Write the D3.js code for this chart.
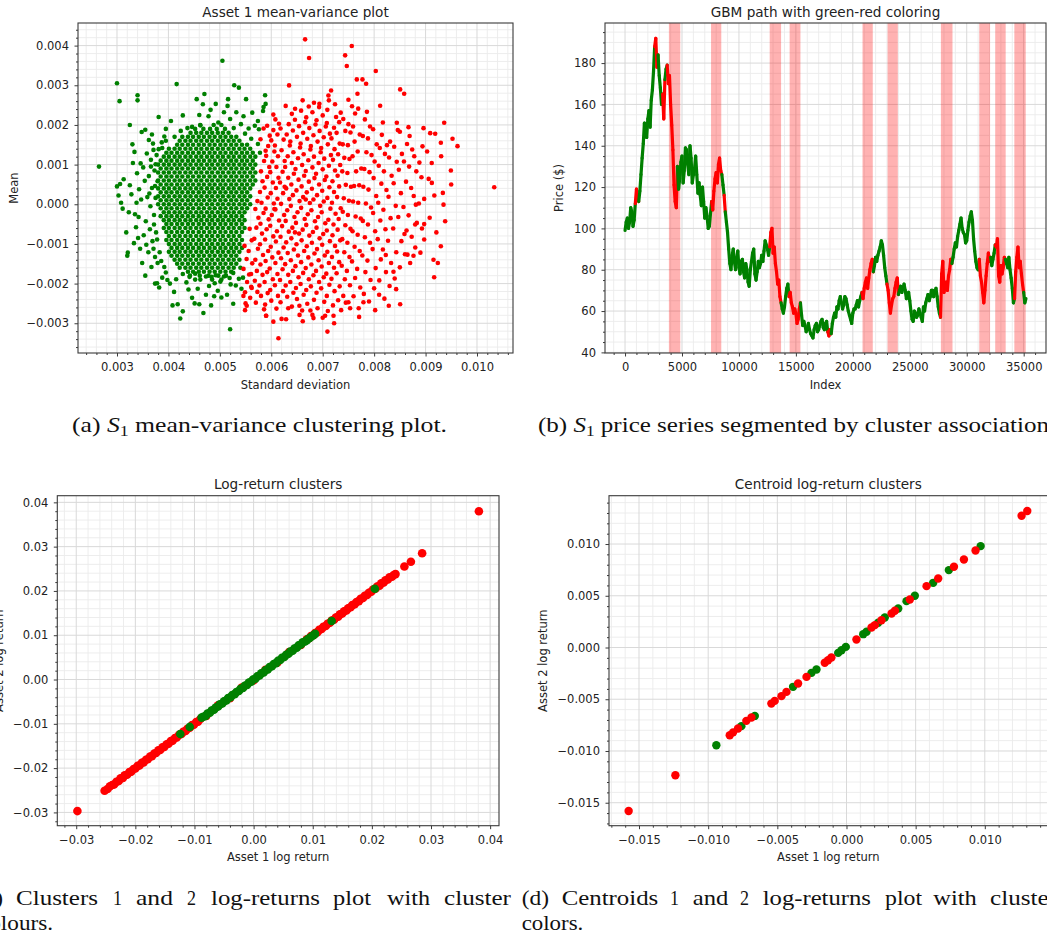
<!DOCTYPE html>
<html><head><meta charset="utf-8">
<script src="https://cdn.jsdelivr.net/npm/d3@7"></script>
<style>
body{margin:0;background:#fff;}
svg text{font-family:"DejaVu Sans",sans-serif;}
</style></head><body>
<svg id="fig" width="1047" height="940"></svg>
<script>
// ---------------- (a) mean-variance data: [std, mean] ----------------
const aGreenRows = [
[.0020,[.00462,.00488,.00503]],
[.0019,[.00452,.00468,.00481,.00494,.0051]],
[.0018,[.00443,.00454,.00464,.00475,.00485,.00496,.00506,.00517]],
[.0017,[.00427,.00438,.00448,.00459,.00469,.0048,.0049,.00501,.00511,.00522,.00532]],
[.0016,[.00422,.00433,.00443,.00454,.00464,.00475,.00485,.00496,.00506,.00517,.00527,.00538]],
[.0015,[.00417,.00427,.00438,.00448,.00459,.00469,.0048,.0049,.00501,.00511,.00522,.00532,.00543,.00553]],
[.0014,[.00401,.00412,.00422,.00433,.00443,.00454,.00464,.00475,.00485,.00496,.00506,.00517,.00527,.00538,.00548,.00559]],
[.0013,[.00396,.00406,.00417,.00427,.00438,.00448,.00459,.00469,.0048,.0049,.00501,.00511,.00522,.00532,.00543,.00553,.00564]],
[.0012,[.00391,.00401,.00412,.00422,.00433,.00443,.00454,.00464,.00475,.00485,.00496,.00506,.00517,.00527,.00538,.00548,.00559,.00569]],
[.0011,[.00385,.00396,.00406,.00417,.00427,.00438,.00448,.00459,.00469,.0048,.0049,.00501,.00511,.00522,.00532,.00543,.00553,.00564]],
[.0010,[.0038,.00391,.00401,.00412,.00422,.00433,.00443,.00454,.00464,.00475,.00485,.00496,.00506,.00517,.00527,.00538,.00548,.00559,.00569]],
[.0009,[.00385,.00396,.00406,.00417,.00427,.00438,.00448,.00459,.00469,.0048,.0049,.00501,.00511,.00522,.00532,.00543,.00553,.00564]],
[.0008,[.0038,.00391,.00401,.00412,.00422,.00433,.00443,.00454,.00464,.00475,.00485,.00496,.00506,.00517,.00527,.00538,.00548,.00559,.00569]],
[.0007,[.00385,.00396,.00406,.00417,.00427,.00438,.00448,.00459,.00469,.0048,.0049,.00501,.00511,.00522,.00532,.00543,.00553,.00564]],
[.0006,[.0038,.00391,.00401,.00412,.00422,.00433,.00443,.00454,.00464,.00475,.00485,.00496,.00506,.00517,.00527,.00538,.00548,.00559,.00569]],
[.0005,[.00385,.00396,.00406,.00417,.00427,.00438,.00448,.00459,.00469,.0048,.0049,.00501,.00511,.00522,.00532,.00543,.00553,.00564]],
[.0004,[.0038,.00391,.00401,.00412,.00422,.00433,.00443,.00454,.00464,.00475,.00485,.00496,.00506,.00517,.00527,.00538,.00548,.00559]],
[.0003,[.00385,.00396,.00406,.00417,.00427,.00438,.00448,.00459,.00469,.0048,.0049,.00501,.00511,.00522,.00532,.00543,.00553]],
[.0002,[.0038,.00391,.00401,.00412,.00422,.00433,.00443,.00454,.00464,.00475,.00485,.00496,.00506,.00517,.00527,.00538,.00548,.00559]],
[.0001,[.00385,.00396,.00406,.00417,.00427,.00438,.00448,.00459,.00469,.0048,.0049,.00501,.00511,.00522,.00532,.00543,.00553]],
[.0000,[.0038,.00391,.00401,.00412,.00422,.00433,.00443,.00454,.00464,.00475,.00485,.00496,.00506,.00517,.00527,.00538,.00548,.00559]],
[-.0001,[.00385,.00396,.00406,.00417,.00427,.00438,.00448,.00459,.00469,.0048,.0049,.00501,.00511,.00522,.00532,.00543,.00553]],
[-.0002,[.00391,.00401,.00412,.00422,.00433,.00443,.00454,.00464,.00475,.00485,.00496,.00506,.00517,.00527,.00538,.00548]],
[-.0003,[.00385,.00396,.00406,.00417,.00427,.00438,.00448,.00459,.00469,.0048,.0049,.00501,.00511,.00522,.00532,.00543]],
[-.0004,[.00391,.00401,.00412,.00422,.00433,.00443,.00454,.00464,.00475,.00485,.00496,.00506,.00517,.00527,.00538,.00548]],
[-.0005,[.00396,.00406,.00417,.00427,.00438,.00448,.00459,.00469,.0048,.0049,.00501,.00511,.00522,.00532,.00543]],
[-.0006,[.00391,.00401,.00412,.00422,.00433,.00443,.00454,.00464,.00475,.00485,.00496,.00506,.00517,.00527,.00538,.00548]],
[-.0007,[.00396,.00406,.00417,.00427,.00438,.00448,.00459,.00469,.0048,.0049,.00501,.00511,.00522,.00532,.00543]],
[-.0008,[.00401,.00412,.00422,.00433,.00443,.00454,.00464,.00475,.00485,.00496,.00506,.00517,.00527,.00538]],
[-.0009,[.00396,.00406,.00417,.00427,.00438,.00448,.00459,.00469,.0048,.0049,.00501,.00511,.00522,.00532,.00543]],
[-.0010,[.00401,.00412,.00422,.00433,.00443,.00454,.00464,.00475,.00485,.00496,.00506,.00517,.00527,.00538]],
[-.0011,[.00406,.00417,.00427,.00438,.00448,.00459,.00469,.0048,.0049,.00501,.00511,.00522,.00532,.00543]],
[-.0012,[.00401,.00412,.00422,.00433,.00443,.00454,.00464,.00475,.00485,.00496,.00506,.00517,.00527,.00538]],
[-.0013,[.00406,.00417,.00427,.00438,.00448,.00459,.00469,.0048,.0049,.00501,.00511,.00522,.00532]],
[-.0014,[.00412,.00422,.00433,.00443,.00454,.00464,.00475,.00485,.00496,.00506,.00517,.00527,.00538]],
[-.0015,[.00417,.00427,.00438,.00448,.00459,.00469,.0048,.0049,.00501,.00511,.00522,.00532]],
[-.0016,[.00422,.00433,.00443,.00454,.00464,.00475,.00485,.00496,.00506,.00517,.00527]],
[-.0017,[.00438,.00448,.00459,.00469,.0048,.0049,.00501,.00511,.00522]],
[-.0018,[.00442,.00461,.00478,.00497,.00512]],
[-.0019,[.00452,.00485,.00503]]
];
const aGreenHalo = [
[.00265,.00095],[.003,.00045],[.00303,.00022],[.00308,.00004],[.00311,-.00011],[.00313,.00063],[.00306,.00051],[.00318,-.00071],[.0032,-.0013],[.00321,-.00122],
[.00325,.00048],[.00323,-.0002],[.00328,.00025],[.0033,.00151],[.00331,.00104],[.00334,.00132],[.00333,-.00098],[.00337,-.00058],[.00339,.00078],[.00342,-.00032],
[.00343,.00038],[.00345,-.00112],[.00347,.00012],[.00349,-.00148],[.00351,.00093],[.00352,-.00078],[.00354,.00059],[.00355,-.0018],[.00356,-.00043],[.00358,.00128],
[.00359,.00018],[.00361,-.00121],[.00362,.00071],[.00364,-.00063],[.00365,-.00005],[.00366,.00112],[.00367,-.00158],[.00368,.00041],[.00369,-.00093],[.0037,.00153],
[.00372,-.00027],[.00373,.00085],[.00374,-.00133],[.00375,.00016],[.00376,-.00071],[.00377,.00124],[.00378,-.00199],[.00379,.00058],[.00348,.00182],[.00355,.00188],
[.00362,.00162],[.00368,.00176],[.00346,.00103],[.00338,.00004],[.00335,-.00025],[.00341,-.00085],[.00357,-.00102],[.00363,.00027],[.00371,-.00112],[.00366,.00095],
[.00374,.00046],[.00372,-.00051],[.00375,.00101],[.00371,.00137],[.00378,-.00089],[.00383,-.00121],[.00381,.00139],[.00387,.00156],[.00392,.00171],[.00379,-.00148],
[.003,.00305],[.00305,.0026],[.0034,.00275],[.0034,.00262],[.00325,.002],[.00416,.00303],[.00505,.00362],[.00528,.003],[.00537,.00294],[.0047,.00278],
[.00455,.00265],[.00516,.00265],[.00551,.00265],[.00588,.00275],[.00585,.00245],[.00515,.00248],[.00492,.00253],[.00428,.00224],[.00381,.0022],[.00446,.00195],
[.00405,.0021],[.00395,.0019],[.0046,.00225],[.00478,.00222],[.00482,.00238],[.00497,.00206],[.0052,.00215],[.00532,.00232],[.00541,.00202],[.00556,.00191],
[.00568,.00198],[.00574,.0021],[.00546,.00222],[.00584,.00235],[.00589,.00253],[.00576,.00189],[.00462,.00199],[.00437,.00192],[.00424,.00185],[.00412,.0017],
[.00395,.0016],[.00388,.00142],[.00467,.00252],[.00508,.00232],[.00563,.00231],[.00527,.00192],[.00549,.00178],[.00561,.00165],[.00574,.00152],[.00578,.0013],
[.00374,-.002],[.00382,-.0021],[.00388,-.00185],[.00395,-.00172],[.00403,-.002],[.00411,-.00221],[.00418,-.00252],[.00423,-.00288],[.00428,-.0027],[.00435,-.00197],
[.00441,-.00183],[.00446,-.00236],[.00451,-.0025],[.00457,-.00213],[.00462,-.0019],[.00468,-.00274],[.00473,-.00228],[.00479,-.00206],[.00484,-.00183],[.00489,-.00232],
[.00496,-.00218],[.00501,-.00195],[.00508,-.00182],[.00514,-.00228],[.0052,-.00315],[.00526,-.00251],[.00531,-.00205],[.00537,-.00188],[.00542,-.00213],[.00415,-.00189],
[.00428,-.00176],[.00452,-.00175],[.00473,-.00182],[.00492,-.00179],[.00519,-.00186],[.00526,-.00173],[.00408,-.00255],[.0046,-.00252],[.0049,-.00199],[.00398,-.00191],
[.00439,-.00215],[.00503,-.00235],[.00521,-.00202],[.00483,-.00255],[.00392,-.00158],[.00386,-.00143],[.00545,-.00185],[.0054,-.0016]
];
const aRed = [
[.00558,-.00062],[.00562,-.00091],[.00556,-.00118],[.00563,-.00149],[.00557,-.00177],[.00561,-.00208],[.00559,-.00236],
[.00548,-.00105],[.00552,-.00138],[.00546,-.00163],[.00553,-.00196],[.00549,-.00222],[.0055,-.0025],
[.0057,-.00248],[.00573,-.00221],[.00568,-.00193],[.00572,-.00168],[.00569,-.0014],[.00574,-.00112],[.00567,-.00087],[.00571,-.00059],[.00575,-.00034],[.00569,-.00012],[.00573,.00008],
[.0058,-.00231],[.00577,-.00205],[.00583,-.00178],[.00579,-.00152],[.00584,-.00128],[.00578,-.00101],[.00582,-.00074],[.00579,-.00049],[.00585,-.00022],[.00581,.00004],[.00578,.00031],[.00583,.00058],[.0058,.00083],[.00586,.00109],[.00589,.00135],
[.0059,-.00281],[.00588,-.00253],[.00593,-.00224],[.00587,-.00196],[.00592,-.00171],[.00589,-.00143],[.00594,-.00118],[.00588,-.00089],[.00591,-.00063],[.00595,-.00038],[.00589,-.00011],[.00593,.00017],[.00587,.00042],[.00592,.00069],[.00596,.00094],[.0059,.00122],[.00594,.00147],[.00597,.00173],[.00592,.00198],
[.006,-.00243],[.00598,-.00216],[.00603,-.00189],[.00597,-.00162],[.00602,-.00134],[.00599,-.00107],[.00604,-.00081],[.00598,-.00054],[.00601,-.00027],[.00605,.00002],[.00599,.00028],[.00603,.00055],[.00598,.00081],[.00602,.00108],[.00606,.00133],[.006,.00161],[.00604,.00187],[.00608,.00214],
[.0061,-.00263],[.00613,-.00231],[.00607,-.00204],[.00612,-.00176],[.00608,-.00148],[.00614,-.00122],[.00609,-.00094],[.00611,-.00068],[.00615,-.00041],[.00608,-.00013],[.00612,.00014],[.00609,.00041],[.00614,.00067],[.0061,.00094],[.00613,.00121],[.00607,.00148],[.00612,.00176],[.00615,.00203],
[.0062,-.00289],[.00618,-.00247],[.00623,-.00219],[.00617,-.00191],[.00622,-.00164],[.00619,-.00136],[.00624,-.00109],[.00618,-.00082],[.00621,-.00055],[.00625,-.00027],[.00619,.00001],[.00623,.00028],[.00617,.00055],[.00622,.00082],[.00626,.00109],[.0062,.00136],[.00624,.00163],[.00618,.00191],
[.00631,-.00233],[.00628,-.00205],[.00633,-.00178],[.00627,-.00151],[.00632,-.00123],[.00629,-.00096],[.00634,-.00069],[.00628,-.00042],[.00631,-.00015],[.00635,.00013],[.00629,.0004],[.00633,.00067],[.00627,.00094],[.00632,.00121],[.00636,.00148],[.0063,.00176],[.00634,.00202],
[.0064,-.00258],[.00643,-.00223],[.00637,-.00196],[.00642,-.00168],[.00638,-.00141],[.00644,-.00114],[.00639,-.00086],[.00641,-.00059],[.00645,-.00032],[.00638,-.00004],[.00642,.00023],[.00639,.0005],[.00644,.00077],[.0064,.00104],[.00643,.00131],[.00637,.00158],[.00642,.00186],[.00646,.00213],[.0064,.00228],
[.0065,-.00239],[.00648,-.00211],[.00653,-.00184],[.00647,-.00156],[.00652,-.00129],[.00649,-.00101],[.00654,-.00074],[.00648,-.00047],[.00651,-.0002],[.00655,.00008],[.00649,.00035],[.00653,.00062],[.00647,.00089],[.00652,.00116],[.00656,.00143],[.0065,.0017],[.00654,.00197],
[.0066,-.00268],[.00663,-.00228],[.00657,-.00201],[.00662,-.00173],[.00658,-.00146],[.00664,-.00118],[.00659,-.00091],[.00661,-.00064],[.00665,-.00037],[.00658,-.00009],[.00662,.00018],[.00659,.00045],[.00664,.00072],[.0066,.00099],[.00663,.00126],[.00657,.00153],[.00662,.0018],[.00666,.00207],
[.0067,-.00251],[.00668,-.00216],[.00673,-.00189],[.00667,-.00161],[.00672,-.00134],[.00669,-.00106],[.00674,-.00079],[.00668,-.00052],[.00671,-.00025],[.00675,.00003],[.00669,.0003],[.00673,.00057],[.00667,.00084],[.00672,.00111],[.00676,.00138],[.0067,.00165],[.00674,.00192],[.00668,.00219],
[.0068,-.00279],[.00683,-.00241],[.00677,-.00207],[.00682,-.00179],[.00678,-.00152],[.00684,-.00124],[.00679,-.00097],[.00681,-.0007],[.00685,-.00043],[.00678,-.00015],[.00682,.00012],[.00679,.00039],[.00684,.00066],[.0068,.00093],[.00683,.0012],[.00677,.00147],[.00682,.00174],[.00686,.00201],[.0068,.00232],
[.0069,-.00262],[.00688,-.00223],[.00693,-.00196],[.00687,-.00168],[.00692,-.00141],[.00689,-.00113],[.00694,-.00086],[.00688,-.00059],[.00691,-.00032],[.00695,-.00004],[.00689,.00023],[.00693,.0005],[.00687,.00077],[.00692,.00104],[.00696,.00131],[.0069,.00158],[.00694,.00185],[.00688,.00212],
[.007,-.00286],[.00703,-.00246],[.00697,-.00212],[.00702,-.00184],[.00698,-.00157],[.00704,-.00129],[.00699,-.00102],[.00701,-.00075],[.00705,-.00048],[.00698,-.0002],[.00702,.00007],[.00699,.00034],[.00704,.00061],[.007,.00088],[.00703,.00115],[.00697,.00142],[.00702,.00169],[.00706,.00196],[.007,.00224],
[.0071,-.00269],[.00708,-.00231],[.00713,-.00203],[.00707,-.00175],[.00712,-.00148],[.00709,-.0012],[.00714,-.00093],[.00708,-.00066],[.00711,-.00039],[.00715,-.00011],[.00709,.00016],[.00713,.00043],[.00707,.0007],[.00712,.00097],[.00716,.00124],[.0071,.00151],[.00714,.00178],[.00708,.00205],
[.0072,-.00255],[.00723,-.00219],[.00717,-.00188],[.00722,-.0016],[.00718,-.00133],[.00724,-.00105],[.00719,-.00078],[.00721,-.00051],[.00725,-.00024],[.00718,.00004],[.00722,.00031],[.00719,.00058],[.00724,.00085],[.0072,.00112],[.00723,.00139],[.00717,.00166],[.00722,.00193],[.00726,.0022],
[.0073,-.00242],[.00733,-.00207],[.00727,-.00174],[.00732,-.00146],[.00728,-.00119],[.00734,-.00091],[.00729,-.00064],[.00731,-.00037],[.00735,-.0001],[.00728,.00018],[.00732,.00045],[.00729,.00072],[.00734,.00099],[.0073,.00126],[.00733,.00153],[.00727,.0018],[.00732,.00207],
[.0074,-.00231],[.00743,-.00189],[.00737,-.00155],[.00742,-.00121],[.00738,-.00088],[.00744,-.00053],[.00739,-.00019],[.00741,.00015],[.00745,.00049],[.00738,.00083],[.00742,.00117],[.00739,.00151],[.00744,.00185],[.0074,.00215],
[.0075,-.00247],[.00753,-.00204],[.00747,-.00168],[.00752,-.00133],[.00748,-.00097],[.00754,-.00062],[.00749,-.00027],[.00751,.00009],[.00755,.00044],[.00748,.00079],[.00752,.00114],[.00749,.00149],[.00754,.00181],[.0075,.00202],
[.0076,-.00232],[.00763,-.00186],[.00757,-.00144],[.00762,-.00107],[.00758,-.00068],[.00764,-.00031],[.00759,.00007],[.00761,.00046],[.00765,.00083],[.00758,.00121],[.00762,.00158],[.00759,.00196],
[.0077,-.00262],[.00773,-.0021],[.00767,-.00163],[.00772,-.00118],[.00768,-.00077],[.00774,-.00036],[.00769,.00004],[.00771,.00048],[.00775,.0009],[.00768,.00133],[.00772,.00176],[.00769,.00241],
[.0078,-.00226],[.00783,-.00171],[.00777,-.00129],[.00782,-.00083],[.00778,-.00042],[.00784,.00002],[.00779,.00044],[.00781,.00089],[.00785,.00131],[.00778,.00172],[.00782,.00214],
[.0079,-.00245],[.00793,-.00191],[.00787,-.00142],[.00792,-.00097],[.00788,-.00051],[.00794,-.00008],[.00789,.00037],[.00791,.00081],[.00795,.00124],[.00788,.00166],[.00792,.00196],
[.008,-.00212],[.00803,-.00161],[.00797,-.00113],[.00802,-.00068],[.00798,-.00022],[.00804,.00021],[.00799,.00066],[.00801,.00108],[.00805,.00151],[.00798,.00189],
[.0081,-.00192],[.00813,-.00139],[.00807,-.00088],[.00812,-.00041],[.00808,.00004],[.00814,.00052],[.00809,.00097],[.00811,.00142],[.00815,.00175],
[.0082,-.00238],[.00823,-.00171],[.00817,-.00114],[.00822,-.00063],[.00818,-.00014],[.00824,.00036],[.00819,.00083],[.00821,.00127],[.00825,.00149],
[.0083,-.00206],[.00833,-.00148],[.00827,-.00092],[.00832,-.00035],[.00828,.00019],[.00834,.00072],[.00829,.00118],[.00831,.00158],
[.0084,-.00187],[.00843,-.00121],[.00837,-.00061],[.00842,-.00004],[.00838,.00053],[.00844,.00107],[.00839,.00145],
[.0085,-.00159],[.00853,-.00093],[.00847,-.00032],[.00852,.00028],[.00848,.00087],[.00854,.00127],[.0085,.00183],
[.0086,-.00126],[.00863,-.00066],[.00857,-.00007],[.00862,.00057],[.00858,.00108],[.00864,.00152],
[.0087,-.00148],[.00873,-.00082],[.00867,-.00028],[.00872,.00041],[.00868,.00095],[.00874,.00138],
[.0088,-.00109],[.00883,-.00047],[.00877,.00021],[.00882,.00083],[.00878,.00121],
[.0089,-.00122],[.00893,-.00061],[.00887,.00002],[.00892,.00068],[.00888,.00105],[.00894,.00146],
[.006658,.004158],[.007565,.00399],[.006735,.003687],[.007436,.003754],[.007468,.003485],[.008032,.003359],[.007663,.003148],[.007773,.003148],[.007844,.00304],[.006346,.002997],
[.007163,.00287],[.008506,.002896],[.008584,.002786],[.007111,.002744],[.007676,.002786],[.0075,.002635],[.006936,.002534],[.008117,.002483],[.006463,.002407],[.006729,.002466],
[.008441,.002054],[.009362,.002054],[.008668,.001944],[.00896,.001919],[.00909,.001793],[.009187,.001776],[.009524,.00165],[.009621,.001465],[.009297,.001549],[.009303,.001212],
[.009492,.00085],[.009498,.000497],[.009122,.000539],[.010335,.000429],[.009336,.000286],[.009349,-.00001],[.009381,-.00043],[.009297,-.00106],[.009154,-.0014],[.009239,-.00148],
[.009167,-.00184],[.008973,-.00089],[.008973,-.0005],[.008798,-.00051],[.008811,-.00001],[.008973,.000135],[.00859,-.00075],[.008649,-.00127],[.008765,-.0013],[.008506,-.00252],
[.008285,-.00256],[.008428,-.00214],[.008376,-.0017],[.008227,-.00128],[.008097,-.00228],[.00802,-.00267],[.007708,-.00284],[.007792,-.00247],[.007533,-.00262],[.007358,-.00267],
[.007222,-.003],[.007092,-.00321],[.007047,-.00281],[.00682,-.00287],[.006612,-.00295],[.006547,-.00256],[.006288,-.0029],[.006139,-.00338],[.005899,-.00281],[.00549,-.00267],
[.005523,-.00256],[.005458,-.00231],[.00562,-.00211],[.005607,-.00176],[.00712,.00262],[.00724,.00252],[.00693,.00245],[.00658,.00236],[.00763,.00229],[.00786,.00233],
[.00817,.00206],[.00846,.00187],[.00869,.00172],[.00903,.00133],[.00912,.00104],[.00906,.00064],[.00917,.00022],[.00908,-.00034],[.00921,-.00071],
[.00586,-.00265],[.00604,-.00296],[.00633,-.00262],[.00655,-.00279],[.00676,-.00268],[.00721,-.00281],[.00745,-.00248],[.00604,.00226],[.00628,.00248],[.00661,.00262],
[.00683,.00256],[.00709,.00238],[.00735,.00231],[.00757,.00247],[.00579,.00164],[.00585,.00191],[.00606,-.00012],[.00626,.00044],[.00646,-.00071],[.00667,.00012]
];
const aXTicks = [0.003,0.004,0.005,0.006,0.007,0.008,0.009,0.010];
const aYTicks = [-0.003,-0.002,-0.001,0,0.001,0.002,0.003,0.004];

// ---------------- (b) GBM price path ----------------
const priceStep = 100; // index spacing of the price samples
const prices = [
99,103,105,100,103,110,108,101,104,112,119,115,113,118,126,134,141,151,146,144,
153,157,149,162,167,176,188,192,178,184,174,168,160,165,153,172,177,179,170,174,
160,150,138,121,113,110,130,119,124,132,135,122,128,139,138,131,126,140,134,122,
126,129,135,126,117,122,116,111,120,113,105,110,106,100,101,107,113,109,118,124,
127,122,131,134,128,126,121,116,108,103,98,90,83,80,87,90,84,80,86,89,
81,78,84,85,79,76,83,80,74,72,80,84,88,90,78,75,79,84,81,83,
87,84,89,94,92,90,87,91,98,100,88,91,83,79,73,75,67,64,61,59,
62,67,71,73,67,69,64,62,59,61,59,54,56,61,64,58,53,55,53,50,
51,54,51,49,48,47,51,53,54,50,51,53,55,56,52,51,54,55,50,48,
51,49,54,57,59,57,62,61,65,67,64,61,63,67,66,63,60,58,56,54,
59,61,61,63,65,62,65,67,69,66,71,74,76,71,76,80,83,85,79,82,
86,84,87,89,91,94,92,87,81,77,73,70,64,59,63,66,67,71,74,76,
68,70,72,69,71,73,70,66,67,69,65,60,56,55,60,59,57,58,61,59,
57,55,62,60,64,66,68,65,67,70,70,67,69,71,67,62,59,57,78,84,
69,72,74,70,77,80,85,83,86,90,93,91,96,99,102,105,100,98,97,93,
94,99,103,106,108,104,95,89,84,81,80,85,77,74,69,64,70,77,83,88,
84,86,82,85,88,92,91,95,77,74,82,78,81,86,85,83,81,86,80,76,
71,64,66,79,86,91,81,84,78,73,69,64,66];
const redBands = [[3850,4850],[7550,8450],[12700,13700],[14450,15400],[20850,21750],[23050,23950],[27730,28750],[31100,32050],[32500,33420],[34180,35180]];
const lineRedRanges = [[950,1150],[2650,2900],[3300,3450],[3700,4550],[7650,8450],[8750,8800],[12700,13650],[14450,15400],[17850,18050],[20850,21750],[23050,23950],[27700,28700],[31100,32050],[32500,33400],[34200,35000]];
const bXTicks = [0,5000,10000,15000,20000,25000,30000,35000];
const bYTicks = [40,60,80,100,120,140,160,180];

// ---------------- (c) log-return clusters [asset1, asset2] ----------------
const cRed = [
[-.0298,-.0297],[.0381,.038],[.0285,.0285],[.0266,.0266],[.0255,.0255],
[-.0252,-.0251],[-.0247,-.0247],[-.0243,-.0241],[-.0239,-.0238],[-.0236,-.0237],[-.0232,-.0231],[-.0228,-.0229],[-.0225,-.0223],[-.0221,-.0222],[-.0218,-.0216],
[-.0214,-.0215],[-.021,-.0209],[-.0207,-.0208],[-.0203,-.0202],[-.02,-.0201],[-.0196,-.0195],[-.0193,-.0194],[-.0189,-.0188],[-.0186,-.0187],[-.0182,-.0181],
[-.0179,-.018],[-.0175,-.0174],[-.0172,-.0173],[-.0168,-.0167],[-.0165,-.0166],[-.0161,-.016],[-.0158,-.0159],[-.0154,-.0153],[-.0151,-.0152],[-.0147,-.0146],
[-.0144,-.0145],[-.014,-.0139],[-.0137,-.0138],[-.0133,-.0132],[-.013,-.0131],[-.0126,-.0125],[-.0122,-.0123],[-.0119,-.0118],[-.0115,-.0116],[-.0112,-.0111],
[-.0108,-.0109],[-.0104,-.0103],[-.0101,-.0102],[-.0097,-.0096],[-.0094,-.0095],[-.009,-.0089],
[-.008,-.0082],[-.006,-.0058],[-.004,-.0042],[-.002,-.0018],[0,-.0002],[.002,.0022],[.004,.0038],[.006,.0062],[.008,.0078],
[.009,.0091],[.0094,.0093],[.0097,.0098],[.0101,.01],[.0104,.0105],[.0108,.0107],[.0111,.0112],[.0115,.0114],[.0118,.0119],[.0122,.0121],
[.0125,.0126],[.0129,.0128],[.0132,.0133],[.0136,.0135],[.0139,.014],[.0143,.0142],[.0146,.0147],[.015,.0149],[.0153,.0154],[.0157,.0156],
[.016,.0161],[.0164,.0163],[.0167,.0168],[.0171,.017],[.0174,.0175],[.0178,.0177],[.0181,.0182],[.0185,.0184],[.0188,.0189],[.0192,.0191],
[.0195,.0196],[.0199,.0198],[.0202,.0203],[.0206,.0205],[.0209,.021],[.0213,.0212],[.0216,.0217],[.022,.0219],[.0223,.0224],[.0227,.0226],
[.023,.0231],[.0234,.0232],[.0237,.0236],[.024,.0238]
];
const cGreen = [
[-.0124,-.0123],[-.0108,-.0107],[.0132,.0132],[.0205,.0205],
[-.0088,-.0086],[-.0085,-.0084],[-.0081,-.0082],[-.0078,-.0077],[-.0074,-.0075],[-.0071,-.007],[-.0067,-.0068],[-.0064,-.0063],[-.006,-.0061],[-.0057,-.0056],
[-.0053,-.0054],[-.005,-.0049],[-.0046,-.0047],[-.0043,-.0042],[-.0039,-.004],[-.0036,-.0035],[-.0032,-.0033],[-.0029,-.0028],[-.0025,-.0026],[-.0022,-.0021],
[-.0018,-.0019],[-.0015,-.0014],[-.0011,-.0012],[-.0008,-.0007],[-.0004,-.0005],[-.0001,0],[.0003,.0002],[.0006,.0007],[.001,.0009],[.0013,.0014],
[.0017,.0016],[.002,.0021],[.0024,.0023],[.0027,.0028],[.0031,.003],[.0034,.0035],[.0038,.0037],[.0041,.0042],[.0045,.0044],[.0048,.0049],
[.0052,.0051],[.0055,.0056],[.0059,.0058],[.0062,.0063],[.0066,.0065],[.0069,.007],[.0073,.0072],[.0076,.0077],[.008,.0079],[.0083,.0084],
[.0087,.0086],[.009,.0089],[.0094,.0093],[.0097,.0096],[.0101,.01],[.0104,.0103]
];
const cTicks = [-0.03,-0.02,-0.01,0,0.01,0.02,0.03,0.04];

// ---------------- (d) centroid log-return clusters ----------------
const dRed = [[-.01575,-.0158],[-.01237,-.01235],[-.00844,-.00848],[-.0082,-.0082],[-.00784,-.00783],[-.00724,-.00709],[-.00687,-.00677],[-.00543,-.00542],[-.00519,-.00516],[-.0047,-.0047],
[-.00434,-.00429],[-.0035,-.00348],[-.00289,-.00284],[-.00157,-.00148],[-.00133,-.00123],[-.00109,-.00097],[.00072,.00077],[.00181,.00193],[.00205,.00216],[.00253,.00264],
[.00326,.00329],[.0035,.00355],[.00458,.00464],[.00579,.00593],[.00663,.00667],[.00777,.0078],[.00849,.00851],[.00933,.00938],[.01266,.01273],[.01307,.01319]];
const dGreen = [[-.00941,-.00945],[-.0076,-.0076],[-.00663,-.00661],[-.00386,-.0038],[-.00253,-.00245],[-.00217,-.00213],[-.0006,-.00052],[-.00036,-.00026],[-.00005,.00006],[.00121,.00129],
[.00145,.00152],[.00229,.00239],[.00277,.0029],[.00374,.00377],[.00434,.00448],[.00494,.005],[.00627,.00625],[.0074,.00748],[.0097,.0098]];
const dTicks = [-0.015,-0.010,-0.005,0,0.005,0.010];

// ---------------- captions ----------------
const capC1 = [["(c)",-24,27],["Clusters",16,82],["1",113,9],["and",136,37],["2",187,9],["log-returns",211,109],["plot",333,38],["with",387,43],["cluster",444,67]];
const capC2 = [["colours.",-21,74]];
const capD1 = [["(d)",521.7,27.3],["Centroids",561.7,96.6],["1",670,9],["and",692.7,35.6],["2",740,9],["log-returns",762.7,108.3],["plot",885,37],["with",933.3,43.4],["cluster",990,67]];
const capD2 = [["colors.",521.7,61.6]];

// =====================================================================
const svg = d3.select("#fig");
const GREEN = "#008000", RED = "#ff0000";
const INK = "#222", SPINE = "#3a3a3a";

function minorVals(domain, step, majors) {
  const out = [];
  const k0 = Math.ceil(domain[0] / step - 1e-9), k1 = Math.floor(domain[1] / step + 1e-9);
  for (let k = k0; k <= k1; k++) {
    const v = +(k * step).toPrecision(10);
    if (!majors.some(m => Math.abs(m - v) < step * 1e-3)) out.push(v);
  }
  return out;
}

let clipN = 0;
function panel(p) {
  const x = d3.scaleLinear().domain(p.xd).range([p.l, p.l + p.w]);
  const y = d3.scaleLinear().domain(p.yd).range([p.t + p.h, p.t]);
  const g = svg.append("g");
  const id = "clip" + (clipN++);
  svg.append("clipPath").attr("id", id).append("rect")
    .attr("x", p.l).attr("y", p.t).attr("width", p.w).attr("height", p.h);
  const xMinor = minorVals(p.xd, p.xMinorStep, p.xTicks);
  const yMinor = minorVals(p.yd, p.yMinorStep, p.yTicks);
  const grid = g.append("g").attr("clip-path", `url(#${id})`);
  grid.selectAll(".vxm").data(xMinor).join("line")
    .attr("x1", d => x(d)).attr("x2", d => x(d)).attr("y1", p.t).attr("y2", p.t + p.h)
    .attr("stroke", "#ebebeb").attr("stroke-width", 0.9);
  grid.selectAll(".hym").data(yMinor).join("line")
    .attr("y1", d => y(d)).attr("y2", d => y(d)).attr("x1", p.l).attr("x2", p.l + p.w)
    .attr("stroke", "#ebebeb").attr("stroke-width", 0.9);
  grid.selectAll(".vx").data(p.xTicks).join("line")
    .attr("x1", d => x(d)).attr("x2", d => x(d)).attr("y1", p.t).attr("y2", p.t + p.h)
    .attr("stroke", "#d9d9d9").attr("stroke-width", 1);
  grid.selectAll(".hy").data(p.yTicks).join("line")
    .attr("y1", d => y(d)).attr("y2", d => y(d)).attr("x1", p.l).attr("x2", p.l + p.w)
    .attr("stroke", "#d9d9d9").attr("stroke-width", 1);
  const plot = g.append("g").attr("clip-path", `url(#${id})`);
  function finish() {
    const styleAxis = sel => {
      sel.select(".domain").remove();
      sel.selectAll("line").attr("stroke", SPINE).attr("stroke-width", 1);
      sel.selectAll("text").style("font-family", "DejaVu Sans, sans-serif").style("font-size", "11.5px").attr("fill", INK);
    };
    svg.append("g").attr("transform", `translate(0,${p.t + p.h})`)
      .call(d3.axisBottom(x).tickValues(xMinor).tickFormat("").tickSize(2)).call(styleAxis);
    svg.append("g").attr("transform", `translate(0,${p.t + p.h})`)
      .call(d3.axisBottom(x).tickValues(p.xTicks).tickFormat(p.xFmt).tickSize(3.5).tickPadding(6.7)).call(styleAxis);
    svg.append("g").attr("transform", `translate(${p.l},0)`)
      .call(d3.axisLeft(y).tickValues(yMinor).tickFormat("").tickSize(2)).call(styleAxis);
    svg.append("g").attr("transform", `translate(${p.l},0)`)
      .call(d3.axisLeft(y).tickValues(p.yTicks).tickFormat(p.yFmt).tickSize(3.5).tickPadding(5.5)).call(styleAxis);
    svg.append("rect").attr("x", p.l).attr("y", p.t).attr("width", p.w).attr("height", p.h)
      .attr("fill", "none").attr("stroke", SPINE).attr("stroke-width", 1.1);
    svg.append("text").attr("x", p.l + p.w / 2).attr("y", p.t - 6.5).attr("text-anchor", "middle")
      .attr("font-size", "13.6px").attr("fill", INK).text(p.title);
    svg.append("text").attr("x", p.l + p.w / 2).attr("y", p.t + p.h + 35.5).attr("text-anchor", "middle")
      .attr("font-size", "11.5px").attr("fill", INK).text(p.xLabel);
    svg.append("text").attr("transform", `translate(${p.yLabelX},${p.t + p.h / 2}) rotate(-90)`)
      .attr("text-anchor", "middle").attr("font-size", "11.5px").attr("fill", INK).text(p.yLabel);
  }
  return { x, y, plot, finish };
}

// ---------- (a) ----------
{
  const P = panel({ l: 78, t: 23, w: 435, h: 330, xd: [0.002242, 0.0107], yd: [-0.00375, 0.00457],
    xTicks: aXTicks, yTicks: aYTicks, xMinorStep: 0.0002, yMinorStep: 0.0002,
    xFmt: d3.format(".3f"), yFmt: d3.format(".3f"),
    title: "Asset 1 mean-variance plot", xLabel: "Standard deviation", yLabel: "Mean", yLabelX: 18.3 });
  const greenPts = aGreenRows.flatMap(([m, stds]) => stds.map(s => [s, m])).concat(aGreenHalo);
  P.plot.selectAll(".ag").data(greenPts).join("circle")
    .attr("cx", d => P.x(d[0])).attr("cy", d => P.y(d[1])).attr("r", 2.3).attr("fill", GREEN);
  P.plot.selectAll(".ar").data(aRed).join("circle")
    .attr("cx", d => P.x(d[0])).attr("cy", d => P.y(d[1])).attr("r", 2.3).attr("fill", RED);
  P.finish();
}

// ---------- (b) ----------
{
  const P = panel({ l: 605, t: 23, w: 441, h: 330, xd: [-1760, 36960], yd: [39.7, 199.4],
    xTicks: bXTicks, yTicks: bYTicks, xMinorStep: 1000, yMinorStep: 5,
    xFmt: d3.format("d"), yFmt: d3.format("d"),
    title: "GBM path with green-red coloring", xLabel: "Index", yLabel: "Price ($)", yLabelX: 563 });
  P.plot.selectAll(".band").data(redBands).join("rect")
    .attr("x", d => P.x(d[0])).attr("width", d => P.x(d[1]) - P.x(d[0]))
    .attr("y", P.y.range()[1]).attr("height", P.y.range()[0] - P.y.range()[1])
    .attr("fill", RED).attr("fill-opacity", 0.3);
  const pts = prices.map((v, i) => [i * priceStep, v]);
  const isRed = idx => lineRedRanges.some(r => idx >= r[0] && idx <= r[1]);
  const segs = d3.range(pts.length - 1).map(i => [pts[i], pts[i + 1], isRed((pts[i][0] + pts[i + 1][0]) / 2)]);
  P.plot.selectAll(".seg").data(segs).join("line")
    .attr("x1", d => P.x(d[0][0])).attr("y1", d => P.y(d[0][1]))
    .attr("x2", d => P.x(d[1][0])).attr("y2", d => P.y(d[1][1]))
    .attr("stroke", d => d[2] ? RED : GREEN).attr("stroke-width", 3.2).attr("stroke-linecap", "round");
  P.finish();
}

// ---------- (c) ----------
{
  const P = panel({ l: 57.3, t: 495.7, w: 441.7, h: 330, xd: [-0.0332, 0.0415], yd: [-0.0330, 0.0415],
    xTicks: cTicks, yTicks: cTicks, xMinorStep: 0.002, yMinorStep: 0.002,
    xFmt: d3.format(".2f"), yFmt: d3.format(".2f"),
    title: "Log-return clusters", xLabel: "Asset 1 log return", yLabel: "Asset 2 log return", yLabelX: 3 });
  P.plot.selectAll(".cr").data(cRed).join("circle")
    .attr("cx", d => P.x(d[0])).attr("cy", d => P.y(d[1])).attr("r", 4.3).attr("fill", RED);
  P.plot.selectAll(".cg").data(cGreen).join("circle")
    .attr("cx", d => P.x(d[0])).attr("cy", d => P.y(d[1])).attr("r", 4.3).attr("fill", GREEN);
  P.finish();
}

// ---------- (d) ----------
{
  const P = panel({ l: 609, t: 495.7, w: 438.6, h: 330, xd: [-0.01717, 0.01454], yd: [-0.01722, 0.01467],
    xTicks: dTicks, yTicks: dTicks, xMinorStep: 0.001, yMinorStep: 0.001,
    xFmt: d3.format(".3f"), yFmt: d3.format(".3f"),
    title: "Centroid log-return clusters", xLabel: "Asset 1 log return", yLabel: "Asset 2 log return", yLabelX: 547.3 });
  P.plot.selectAll(".dg").data(dGreen).join("circle")
    .attr("cx", d => P.x(d[0])).attr("cy", d => P.y(d[1])).attr("r", 4.2).attr("fill", GREEN);
  P.plot.selectAll(".dr").data(dRed).join("circle")
    .attr("cx", d => P.x(d[0])).attr("cy", d => P.y(d[1])).attr("r", 4.2).attr("fill", RED);
  P.finish();
}

// ---------- captions ----------
const SERIF = "Liberation Serif, Times New Roman, serif";
function subCaption(x0, len, label, rest) {
  const t = svg.append("text").attr("x", x0).attr("y", 432)
    .attr("textLength", len).attr("lengthAdjust", "spacingAndGlyphs")
    .style("font-family", SERIF).attr("font-size", "21px").attr("fill", "#111");
  t.append("tspan").text(label + " ");
  t.append("tspan").attr("font-style", "italic").text("S");
  t.append("tspan").attr("font-size", "14.5px").attr("dy", 4).text("1");
  t.append("tspan").attr("dy", -4).text(" " + rest);
}
subCaption(72, 375, "(a)", "mean-variance clustering plot.");
subCaption(538, 511, "(b)", "price series segmented by cluster association");

function words(list, yb) {
  svg.append("g").selectAll("text").data(list).join("text")
    .attr("x", d => d[1]).attr("y", yb)
    .attr("textLength", d => d[2]).attr("lengthAdjust", "spacingAndGlyphs")
    .style("font-family", SERIF).attr("font-size", "21px").attr("fill", "#111")
    .text(d => d[0]);
}
words(capC1, 905); words(capC2, 930);
words(capD1, 905); words(capD2, 930);
</script>
</body></html>
